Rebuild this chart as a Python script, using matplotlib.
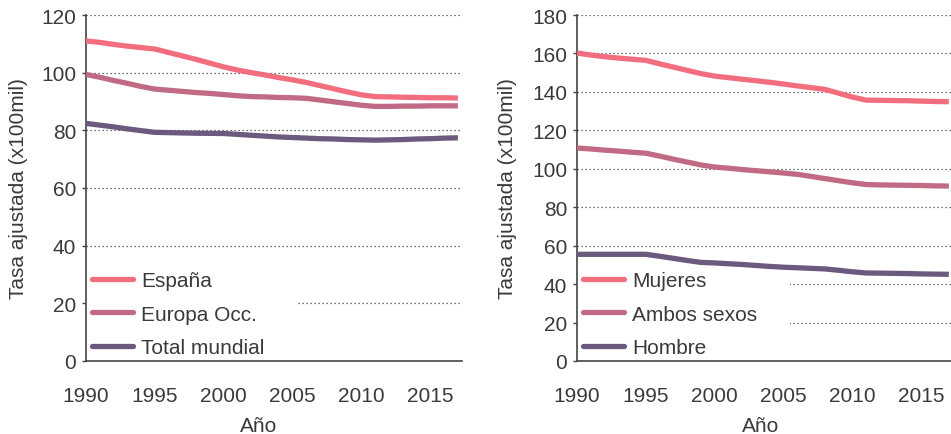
import matplotlib
matplotlib.use("Agg")
import matplotlib.pyplot as plt
from matplotlib.patches import Rectangle

plt.rcParams['font.family'] = ['Liberation Sans', 'DejaVu Sans']

years = list(range(1990, 2018))

# Left panel
espana = [111.0, 110.5, 109.8, 109.2, 108.7, 108.2, 107.0, 105.8, 104.6, 103.3,
          102.0, 100.9, 100.0, 99.2, 98.3, 97.5, 96.6, 95.5, 94.4, 93.3,
          92.3, 91.7, 91.6, 91.5, 91.4, 91.3, 91.3, 91.2]
europa = [99.4, 98.4, 97.3, 96.3, 95.2, 94.3, 93.9, 93.5, 93.1, 92.8,
          92.4, 92.0, 91.7, 91.6, 91.4, 91.3, 91.1, 90.5, 89.9, 89.3,
          88.7, 88.3, 88.3, 88.4, 88.4, 88.5, 88.5, 88.5]
mundial = [82.4, 81.8, 81.2, 80.5, 79.9, 79.3, 79.2, 79.1, 79.0, 78.95,
           78.9, 78.6, 78.3, 78.0, 77.7, 77.5, 77.3, 77.1, 77.0, 76.8,
           76.7, 76.6, 76.7, 76.8, 77.0, 77.1, 77.3, 77.4]

# Right panel
mujeres = [160.2, 159.2, 158.3, 157.6, 157.0, 156.4, 154.6, 152.9, 151.2, 149.5,
           148.2, 147.4, 146.6, 145.8, 145.0, 144.1, 143.1, 142.2, 141.3, 139.3,
           137.3, 135.7, 135.6, 135.5, 135.4, 135.2, 135.0, 134.9]
ambos = [110.8, 110.3, 109.7, 109.2, 108.6, 108.1, 106.6, 105.0, 103.5, 102.0,
         100.9, 100.3, 99.6, 99.0, 98.4, 97.8, 97.1, 96.0, 94.9, 93.8,
         92.7, 91.8, 91.6, 91.5, 91.4, 91.3, 91.1, 91.0]
hombre = [55.5, 55.5, 55.5, 55.5, 55.5, 55.5, 54.5, 53.4, 52.3, 51.3,
          51.0, 50.6, 50.2, 49.7, 49.2, 48.8, 48.5, 48.2, 47.9, 47.2,
          46.4, 45.8, 45.7, 45.6, 45.5, 45.3, 45.2, 45.1]

xticks = [1990, 1995, 2000, 2005, 2010, 2015]
left_labels = ["España", "Europa Occ.", "Total mundial"]
right_labels = ["Mujeres", "Ambos sexos", "Hombre"]
colors = ["#F26E7E", "#C06A84", "#6B5A7E"]

W, H = 951, 435
fig = plt.figure(figsize=(W / 100, H / 100), dpi=100)

txt = "#3a3a3a"
FS = 15

def setup(ax, ymax, ystep, series, labels, xlab_frac, rect_w, rect_h):
    for s, lab, c in zip(series, labels, colors):
        ax.plot(years, s, color=c, lw=3.8, label=lab, solid_capstyle='butt', zorder=3)
    ax.set_xlim(1990, 2017.3)
    ax.set_ylim(0, ymax)
    ax.set_yticks(range(0, ymax + 1, ystep))
    ax.set_xticks(xticks)
    for sp in ['top', 'right']:
        ax.spines[sp].set_visible(False)
    for sp in ['left', 'bottom']:
        ax.spines[sp].set_color('#444444')
        ax.spines[sp].set_linewidth(1.2)
    ax.tick_params(axis='y', length=3, width=1, color='#444444', labelsize=FS,
                   labelcolor=txt, pad=4)
    ax.tick_params(axis='x', length=0, labelsize=FS, labelcolor=txt, pad=18)
    for v in range(ystep, ymax + 1, ystep):
        ax.axhline(v, color='#444444', lw=0.9, ls=(0, (1, 2.2)), zorder=1)
    ax.add_patch(Rectangle((0, 0), rect_w, rect_h, transform=ax.transAxes,
                           facecolor='white', edgecolor='none', zorder=2))
    ax.set_xlabel("Año", fontsize=FS, color=txt)
    ax.xaxis.set_label_coords(xlab_frac, -0.16)
    ax.set_ylabel("Tasa ajustada (x100mil)", fontsize=FS, color=txt)
    leg = ax.legend(loc='lower left', bbox_to_anchor=(0.006, 0.0), frameon=False,
                    fontsize=FS, handlelength=1.95, handletextpad=0.4,
                    labelspacing=0.68, borderaxespad=0.0, borderpad=0.2)
    for t in leg.get_texts():
        t.set_color(txt)
    for h in leg.get_lines():
        h.set_solid_capstyle('round')
    leg.set_zorder(4)

ax_w = 376 / W
ax_h = 346 / H
ax_b = (H - 362) / H

ax1 = fig.add_axes([86 / W, ax_b, ax_w, ax_h])
setup(ax1, 120, 20, [espana, europa, mundial], left_labels, 0.46, 0.564, 0.31)
ax1.yaxis.set_label_coords(-0.155, 0.5)

ax2 = fig.add_axes([577 / W, ax_b, ax_w, ax_h])
setup(ax2, 180, 20, [mujeres, ambos, hombre], right_labels, 0.487, 0.566, 0.29)
ax2.yaxis.set_label_coords(-0.16, 0.5)

fig.savefig("out.png", dpi=100)
